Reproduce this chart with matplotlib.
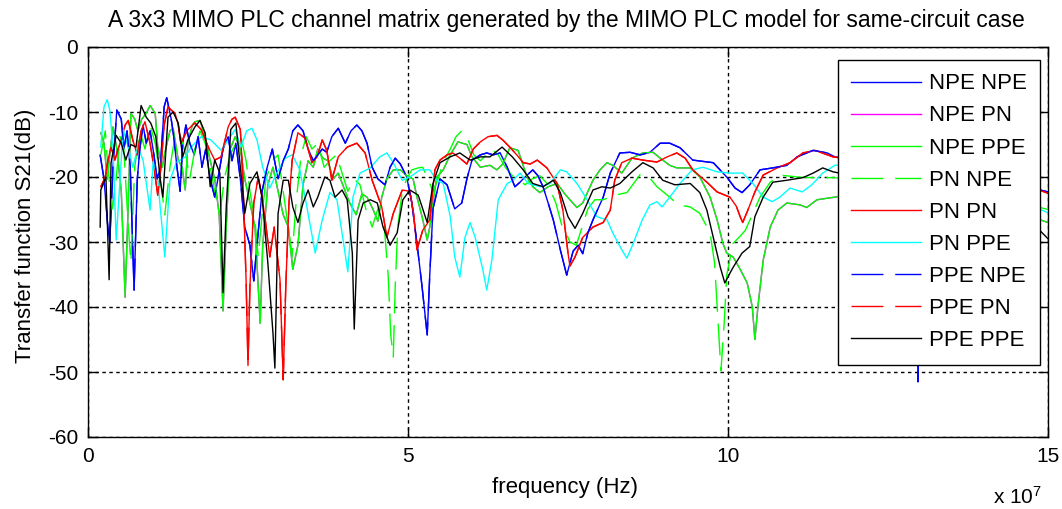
# 3x3 MIMO PLC channel matrix, same-circuit case
# transfer function S21 (dB) of the 9 channel combinations vs frequency
import numpy as np
import matplotlib
matplotlib.use("Agg")
import matplotlib.pyplot as plt

plt.rcParams['font.family'] = ['Liberation Sans', 'DejaVu Sans']
plt.rcParams['mathtext.default'] = 'regular'
plt.rcParams['axes.unicode_minus'] = False

## values (frequency in MHz, S21 in dB)
# NPE NPE (PPE NPE lies on top of it)
f_blue = [1.9, 2.5, 3.1, 3.4, 3.9, 4.5, 5.2, 5.6, 6.1, 6.6, 7.2, 7.7, 8.1, 8.6, 9.1, 9.7,
          10.3, 10.8, 11.3, 11.9, 12.3, 13.0, 13.4, 13.9, 14.4, 14.8, 15.3, 15.9, 16.6, 17.2,
          17.8, 18.4, 19.1, 19.8, 20.6, 21.1, 21.9, 22.5, 23.1, 23.8, 24.5, 25.3, 25.9, 26.4,
          27.2, 28.0, 28.8, 29.7, 30.5, 31.3, 32.0, 32.8, 33.6, 34.4, 35.2, 35.9, 36.6, 37.3,
          38.1, 39.1, 40.2, 41.1, 42.0, 42.8, 43.6, 44.4, 45.3, 46.4, 47.2, 48.0, 48.8, 49.8,
          50.6, 51.4, 52.2, 53.0, 53.4, 53.9, 55.0, 56.1, 57.3, 58.4, 59.2, 60.0, 61.3, 62.3,
          63.3, 64.4, 65.5, 66.7, 67.5, 68.3, 69.5, 70.3, 71.1, 71.9, 72.7, 73.8, 74.8, 75.8,
          76.6, 77.3, 78.1, 78.9, 80.5, 81.6, 83.1, 84.7, 86.3, 87.8, 89.4, 90.9, 92.5, 94.5,
          97.7, 99.8, 101.1, 102.2, 103.4, 105.0, 107.0, 109.2, 110.8, 113.3, 115.5, 116.7,
          120.6, 125.3, 128.4, 129.4, 129.7, 130.0, 131.6, 136.3, 140.9, 145.6, 148.8, 150.0]
s_blue = [-16.6, -20.3, -27.7, -30.0, -18.5, -9.7, -11.1, -15.7, -12.9, -18.5, -37.4, -20.3,
          -15.7, -12.0, -14.8, -12.9, -16.6, -20.3, -18.5, -9.2, -7.8, -11.1, -13.8, -18.5,
          -22.2, -14.8, -12.0, -14.8, -16.6, -13.8, -18.5, -15.7, -20.3, -23.1, -18.5, -15.7,
          -13.8, -17.5, -14.8, -20.3, -27.7, -30.5, -36.0, -30.5, -22.2, -18.5, -15.7, -20.3,
          -17.5, -15.7, -12.9, -12.0, -12.9, -15.7, -17.5, -16.6, -15.7, -16.2, -13.8, -12.5,
          -14.8, -12.9, -12.0, -12.9, -14.8, -18.5, -20.3, -21.2, -18.5, -17.1, -18.0, -20.0,
          -24.0, -30.2, -36.9, -44.3, -35.1, -24.9, -20.3, -21.2, -24.9, -24.0, -20.3, -17.4,
          -16.6, -16.3, -16.6, -16.3, -18.5, -21.5, -20.8, -20.0, -18.9, -19.8, -21.5, -24.0,
          -26.6, -31.2, -35.1, -31.4, -30.5, -31.8, -28.6, -26.6, -23.1, -19.4, -16.3, -16.2,
          -16.6, -16.2, -14.8, -14.8, -15.5, -17.4, -17.8, -20.0, -21.7, -22.4, -21.2, -18.9,
          -18.6, -18.2, -16.9, -15.9, -16.3, -16.9, -17.5, -19.5, -22.0, -32.0, -51.5, -32.0,
          -22.0, -20.5, -19.5, -20.5, -22.0, -22.3]

# PN PN (PPE PN lies on top of it)
f_red = [2.0, 2.7, 3.1, 3.6, 4.2, 4.7, 5.2, 5.8, 6.3, 7.0, 7.7, 8.3, 8.9, 9.7, 10.3, 10.9,
         11.4, 11.9, 12.5, 13.0, 13.6, 14.1, 14.5, 15.0, 15.6, 16.7, 17.7, 18.8, 19.8, 20.8,
         21.9, 22.5, 23.0, 23.8, 24.2, 24.7, 25.0, 25.3, 25.9, 26.6, 27.2, 27.7, 28.4, 29.1,
         29.5, 30.0, 30.5, 30.9, 31.4, 31.9, 32.8, 33.9, 35.0, 35.8, 36.6, 37.3, 38.1, 39.1,
         40.5, 42.0, 43.3, 44.4, 45.9, 46.7, 47.7, 49.1, 50.3, 50.9, 51.4, 51.9, 52.3, 53.4,
         54.2, 55.0, 56.1, 57.0, 58.1, 59.2, 60.2, 61.3, 62.5, 63.9, 64.8, 65.9, 67.0, 68.0,
         69.1, 70.2, 71.7, 73.3, 74.2, 75.0, 75.3, 76.1, 77.3, 78.9, 80.5, 81.6, 82.3, 83.4,
         85.0, 86.7, 88.9, 90.5, 92.0, 93.3, 94.5, 96.7, 98.3, 100.3, 101.3, 101.9, 102.3,
         103.1, 104.2, 105.5, 107.7, 109.7, 111.7, 113.6, 116.4, 120.6, 125.3, 130.0, 136.3,
         142.5, 147.2, 150.0]
s_red = [-21.5, -20.0, -17.5, -15.4, -17.4, -15.7, -14.3, -12.0, -11.3, -14.3, -16.6, -12.9,
         -11.5, -14.8, -18.5, -22.8, -18.5, -12.0, -9.2, -9.7, -10.2, -12.0, -14.8, -13.8,
         -12.7, -11.7, -12.7, -15.4, -17.4, -16.9, -12.3, -11.1, -10.8, -12.7, -20.3, -35.8,
         -49.0, -36.9, -24.0, -20.0, -23.1, -26.6, -32.3, -27.7, -31.4, -35.8, -51.2, -36.9,
         -24.0, -17.4, -13.2, -14.0, -17.8, -16.9, -14.3, -15.9, -20.5, -16.9, -15.4, -14.8,
         -16.3, -20.5, -24.6, -29.3, -25.6, -22.0, -22.2, -25.8, -31.2, -29.5, -28.2, -26.6,
         -18.9, -17.4, -16.6, -16.3, -17.1, -18.0, -15.7, -14.6, -13.8, -13.6, -14.3, -15.4,
         -16.6, -17.8, -18.0, -17.4, -18.6, -21.0, -25.1, -31.7, -33.7, -32.3, -29.3, -27.7,
         -27.0, -25.1, -20.5, -17.8, -17.1, -17.4, -17.7, -16.9, -16.3, -17.1, -18.9, -20.8,
         -22.3, -23.1, -24.5, -26.1, -27.0, -25.1, -22.3, -19.7, -18.6, -17.8, -16.3, -15.9,
         -16.9, -17.5, -18.5, -20.5, -19.5, -20.5, -21.5, -22.5]

# PPE PPE
f_black = [1.9, 2.0, 2.8, 3.3, 3.6, 4.4, 5.2, 5.9, 6.7, 7.5, 8.3, 9.1, 9.8, 10.6, 11.3, 11.7,
           12.5, 13.3, 14.1, 14.8, 15.6, 16.7, 17.5, 18.3, 19.1, 19.8, 20.6, 21.1, 21.6, 22.3,
           23.1, 23.9, 24.5, 25.3, 26.4, 27.2, 28.1, 28.9, 29.2, 29.7, 30.5, 31.3, 32.0, 32.8,
           33.6, 34.4, 35.2, 35.9, 37.0, 37.8, 38.6, 39.7, 40.5, 41.3, 41.6, 42.2, 43.0, 44.1,
           45.2, 46.1, 47.2, 48.3, 49.2, 50.3, 51.6, 52.3, 53.0, 53.9, 55.0, 56.6, 58.1, 59.7,
           61.3, 62.8, 64.7, 66.3, 68.0, 69.5, 71.1, 72.7, 73.8, 75.0, 76.1, 77.3, 78.9, 80.3,
           81.6, 83.1, 85.0, 86.7, 88.3, 89.8, 91.7, 94.1, 95.6, 96.7, 97.7, 98.8, 99.5, 100.3,
           100.8, 102.2, 103.4, 104.2, 105.5, 107.0, 109.2, 111.7, 113.3, 114.8, 116.4, 120.6,
           126.9, 133.1, 139.4, 145.6, 148.8, 150.0]
s_black = [-27.7, -22.0, -20.0, -35.8, -17.8, -13.6, -14.8, -17.4, -15.0, -15.4, -9.0, -10.8,
           -11.7, -13.8, -20.5, -23.1, -10.8, -10.0, -11.7, -16.9, -14.3, -12.3, -11.3, -13.2,
           -21.5, -17.4, -19.4, -37.8, -24.6, -12.7, -11.7, -19.4, -25.6, -21.0, -19.2, -23.1,
           -33.2, -44.0, -49.4, -25.6, -20.5, -20.5, -24.6, -27.0, -24.0, -22.0, -24.6, -23.1,
           -20.0, -20.5, -23.1, -22.0, -23.5, -31.7, -43.4, -26.6, -24.0, -23.5, -24.0, -27.7,
           -30.5, -28.6, -23.5, -22.0, -22.8, -24.9, -27.0, -21.0, -17.8, -16.9, -16.3, -17.4,
           -16.9, -16.9, -15.4, -16.9, -18.9, -21.0, -21.5, -20.5, -22.4, -26.1, -27.9, -25.6,
           -22.0, -21.5, -21.7, -21.0, -19.2, -17.8, -18.6, -20.5, -21.2, -21.0, -22.4, -25.1,
           -29.3, -33.9, -36.3, -34.8, -33.9, -31.7, -30.7, -26.1, -23.1, -20.8, -20.5, -20.1,
           -19.4, -18.6, -19.2, -20.0, -21.5, -21.0, -23.0, -26.0, -28.3, -29.5]

# PN PPE
f_cyan = [2.0, 2.5, 3.0, 3.4, 3.9, 4.4, 5.0, 5.5, 6.3, 7.0, 7.8, 8.6, 9.7, 10.2, 10.9, 12.0,
          12.8, 13.8, 15.2, 16.1, 17.7, 19.2, 20.8, 21.9, 23.0, 23.9, 24.8, 25.6, 26.4, 27.3,
          28.4, 29.5, 30.8, 31.9, 33.1, 34.2, 35.5, 36.6, 37.8, 38.9, 39.8, 40.6, 41.4, 42.5,
          44.1, 45.6, 46.7, 47.7, 49.1, 50.3, 51.9, 53.4, 54.5, 55.5, 56.6, 57.3, 58.1, 58.9,
          59.7, 60.5, 61.7, 62.3, 63.1, 64.1, 65.5, 66.4, 67.5, 68.8, 70.6, 72.2, 73.8, 74.8,
          76.4, 78.0, 79.5, 81.1, 82.0, 83.4, 84.2, 85.2, 86.6, 87.8, 88.9, 89.7, 90.9, 92.5,
          94.4, 96.1, 98.3, 100.3, 102.3, 103.9, 105.5, 106.9, 108.1, 109.7, 111.6, 113.1,
          114.8, 116.7, 120.6, 126.9, 134.7, 142.5, 148.8, 150.0]
s_cyan = [-15.4, -9.2, -8.1, -9.7, -15.4, -29.7, -20.5, -12.7, -15.4, -18.5, -15.4, -17.4,
          -25.1, -17.4, -20.5, -32.3, -20.5, -17.8, -16.9, -15.4, -13.8, -14.3, -15.9, -14.3,
          -12.7, -15.4, -12.9, -12.5, -14.3, -18.5, -21.7, -19.4, -17.1, -16.6, -18.9, -24.6,
          -31.7, -26.6, -22.4, -23.5, -29.3, -34.6, -23.1, -19.4, -18.6, -16.9, -16.3, -17.8,
          -20.5, -20.0, -18.9, -18.9, -20.5, -21.0, -26.1, -32.3, -35.4, -29.3, -27.0, -29.3,
          -34.3, -37.4, -32.8, -23.5, -21.0, -20.5, -19.4, -21.0, -21.5, -21.0, -18.9, -19.2,
          -21.0, -23.5, -26.1, -26.6, -28.6, -31.2, -32.5, -30.2, -26.6, -24.3, -23.8, -24.6,
          -23.1, -21.0, -18.9, -18.5, -19.2, -19.4, -19.4, -21.0, -23.1, -23.8, -23.1, -21.7,
          -22.3, -21.2, -19.4, -18.2, -18.0, -20.0, -22.0, -23.5, -25.0, -25.5]

# NPE PPE (NPE PN lies under it)
f_green = [2.0, 2.5, 3.0, 3.4, 3.9, 4.5, 5.2, 5.8, 6.3, 6.7, 7.3, 7.8, 8.4, 9.1, 9.7, 10.5,
           10.9, 11.6, 12.0, 12.8, 13.3, 14.1, 14.7, 15.2, 15.6, 16.3, 16.7, 17.5, 18.3, 19.1,
           19.8, 20.5, 21.1, 21.6, 22.2, 23.0, 23.8, 24.5, 25.3, 26.1, 26.9, 27.3, 28.1, 28.9,
           29.7, 30.5, 31.3, 32.0, 32.8, 33.6, 34.4, 35.2, 35.9, 36.7, 37.5, 38.3, 39.1, 39.8,
           40.9, 41.9, 42.8, 43.6, 44.5, 45.3, 45.9, 46.7, 47.7, 48.8, 49.8, 50.8, 51.4, 52.2,
           53.0, 53.4, 53.9, 54.5, 55.5, 56.6, 57.8, 59.2, 60.0, 61.3, 62.8, 63.9, 64.8, 65.9,
           67.2, 68.6, 69.5, 70.6, 71.9, 73.3, 74.5, 75.3, 76.4, 77.3, 78.9, 80.0, 81.1, 82.0,
           83.4, 85.0, 86.7, 88.3, 89.4, 90.9, 92.0, 94.1, 95.6, 97.2, 98.3, 99.2, 99.8, 100.8,
           101.9, 103.0, 103.8, 104.2, 104.7, 105.5, 106.6, 107.8, 109.2, 111.3, 112.3, 113.9,
           116.7, 122.2, 130.0, 137.8, 144.1, 150.0]
s_green = [-13.2, -14.8, -20.3, -16.6, -12.3, -15.7, -22.2, -38.5, -24.0, -10.2, -11.1, -12.9,
           -11.1, -10.2, -9.0, -10.2, -15.4, -18.5, -16.3, -12.9, -12.5, -17.4, -18.5, -22.0,
           -14.8, -12.0, -11.5, -11.3, -13.8, -17.5, -20.3, -25.8, -40.6, -27.7, -15.7, -13.8,
           -15.7, -20.3, -24.0, -27.7, -42.5, -30.5, -21.2, -18.5, -22.2, -25.8, -27.7, -34.2,
           -30.5, -21.2, -17.5, -18.5, -15.7, -17.1, -17.5, -20.3, -19.4, -21.2, -24.0, -25.8,
           -22.6, -23.1, -24.9, -26.8, -23.1, -20.3, -18.9, -18.9, -19.8, -20.3, -23.1, -26.1,
           -29.7, -27.7, -24.0, -20.0, -18.9, -16.6, -14.6, -15.0, -16.9, -18.5, -18.2, -18.9,
           -18.0, -15.5, -15.9, -20.0, -21.5, -22.4, -21.5, -21.0, -22.6, -23.5, -24.7, -24.0,
           -20.5, -18.9, -17.8, -18.2, -19.4, -17.1, -16.3, -16.2, -17.1, -18.2, -18.6, -18.6,
           -20.0, -23.1, -26.6, -30.2, -31.7, -32.3, -34.2, -36.3, -40.0, -45.0, -39.7, -32.8,
           -27.7, -25.1, -24.0, -24.3, -24.7, -23.5, -23.1, -22.0, -24.0, -23.0, -25.0, -27.0]

# PN NPE (dashed)
f_green2 = [2.0, 2.7, 3.1, 3.8, 4.4, 5.0, 5.6, 6.3, 6.7, 7.3, 8.1, 8.9, 9.7, 10.5, 11.3, 12.0,
            12.8, 13.6, 14.4, 15.3, 15.9, 16.7, 17.5, 18.3, 19.1, 19.8, 20.6, 21.3, 22.2, 23.1,
            23.9, 24.7, 25.3, 26.1, 26.6, 27.2, 27.8, 28.8, 29.7, 30.5, 31.3, 31.9, 32.5, 33.3,
            34.1, 35.0, 35.9, 36.9, 37.8, 38.8, 39.7, 40.6, 41.6, 42.5, 43.4, 44.4, 45.3, 46.3,
            46.9, 47.3, 47.7, 48.0, 48.4, 49.1, 49.8, 50.6, 51.6, 52.3, 53.1, 53.9, 54.7, 55.6,
            56.6, 57.5, 58.4, 59.4, 60.3, 61.3, 62.2, 63.1, 64.1, 65.2, 66.3, 67.2, 68.3, 69.4,
            70.6, 71.9, 73.1, 74.1, 74.7, 75.3, 76.3, 77.2, 78.1, 79.2, 80.5, 82.3, 84.2, 86.3,
            87.5, 88.9, 90.9, 92.2, 94.1, 95.6, 97.2, 97.9, 98.4, 98.9, 99.4, 99.8, 100.8, 101.9,
            102.7, 103.8, 105.0, 106.6, 108.1, 110.8, 112.8, 116.7, 122.2, 130.0, 137.8, 144.1,
            150.0]
s_green2 = [-16.6, -12.9, -18.5, -24.9, -20.3, -13.8, -15.7, -27.7, -33.2, -18.5, -12.9, -15.7,
            -12.0, -14.8, -20.3, -25.8, -18.5, -13.8, -13.4, -16.6, -20.3, -15.7, -12.9, -14.8,
            -18.5, -22.2, -25.8, -20.3, -16.6, -14.8, -13.8, -17.5, -22.2, -26.8, -32.3, -25.8,
            -20.3, -17.5, -16.6, -22.2, -27.7, -32.3, -24.0, -16.6, -13.8, -15.7, -14.8, -18.5,
            -17.5, -16.6, -19.4, -22.2, -20.3, -21.2, -24.9, -27.7, -24.9, -27.7, -35.1, -44.3,
            -47.7, -36.9, -27.7, -22.2, -20.3, -18.9, -18.6, -18.5, -20.3, -22.2, -20.3, -17.5,
            -15.7, -13.8, -12.9, -14.3, -16.6, -17.5, -16.6, -15.7, -16.6, -18.5, -19.8, -20.3,
            -21.2, -20.3, -19.8, -21.2, -24.0, -27.7, -28.6, -30.0, -30.5, -27.7, -24.9, -23.5,
            -23.5, -22.8, -22.4, -19.6, -19.8, -21.5, -23.1, -24.3, -24.6, -25.6, -28.6, -33.2,
            -41.5, -49.8, -42.5, -35.1, -30.2, -29.1, -28.2, -25.8, -23.1, -20.8, -19.7, -20.0,
            -20.1, -20.1, -21.0, -23.0, -22.0, -23.5, -25.0]

# legend order = plot order
series = [
    ("NPE NPE", f_blue, s_blue, (0, 0, 1), '-'),
    ("NPE PN", f_green, s_green, (1, 0, 1), '-'),
    ("NPE PPE", f_green, s_green, (0, 1, 0), '-'),
    ("PN NPE", f_green2, s_green2, (0, 1, 0), '--'),
    ("PN PN", f_red, s_red, (1, 0, 0), '-'),
    ("PN PPE", f_cyan, s_cyan, (0, 1, 1), '-'),
    ("PPE NPE", f_blue, s_blue, (0, 0, 1), '--'),
    ("PPE PN", f_red, s_red, (1, 0, 0), '--'),
    ("PPE PPE", f_black, s_black, (0, 0, 0), '-'),
]

## Plot
fig = plt.figure(figsize=(10.62, 5.09), dpi=100)
ax = fig.add_axes([88/1062, 72/509, 960/1062, 390/509])

for name, f, s, col, ls in series:
    line, = ax.plot(np.array(f)*1e6, s, color=col, lw=1.0, label=name)
    if ls == '--':
        line.set_dashes((23, 8.5))

ax.set_xlim(0, 1.5e8)
ax.set_ylim(-60, 0)
ax.set_xticks([0, 5e7, 1e8, 1.5e8])
ax.set_xticklabels(['0', '5', '10', '15'])
ax.set_yticks(np.arange(-60, 1, 10))
ax.tick_params(direction='in', length=7, width=1, labelsize=15, pad=7,
               top=True, right=True, colors='black')
ax.grid(True, color='black', lw=1.0, linestyle=(0, (2.5, 2.5)))
for sp in ax.spines.values():
    sp.set_linewidth(1.0)
    sp.set_color('black')

# texts
fig.text(566/1062, 1-21/509, 'A 3x3 MIMO PLC channel matrix generated by the MIMO PLC model '
         'for same-circuit case', ha='center', va='center', fontsize=16.5)
fig.text(565/1062, 1-487/509, 'frequency (Hz)', ha='center', va='center', fontsize=16)
fig.text(26/1062, 1-236/509, 'Transfer function S21(dB)', ha='center', va='center',
         rotation=90, fontsize=16)
fig.text(1042/1062, 1-497/509, r'x 10$^7$', ha='right', va='center', fontsize=15)

leg = ax.legend(loc='upper right', bbox_to_anchor=(1040/1062, 1-60/509),
                bbox_transform=fig.transFigure, fontsize=16, frameon=True,
                fancybox=False, framealpha=1, edgecolor='black', borderaxespad=0,
                handlelength=3.15, handletextpad=0.35, labelspacing=0.5, borderpad=0.6)
leg.get_frame().set_linewidth(1.0)

fig.savefig('out.png', dpi=100)
